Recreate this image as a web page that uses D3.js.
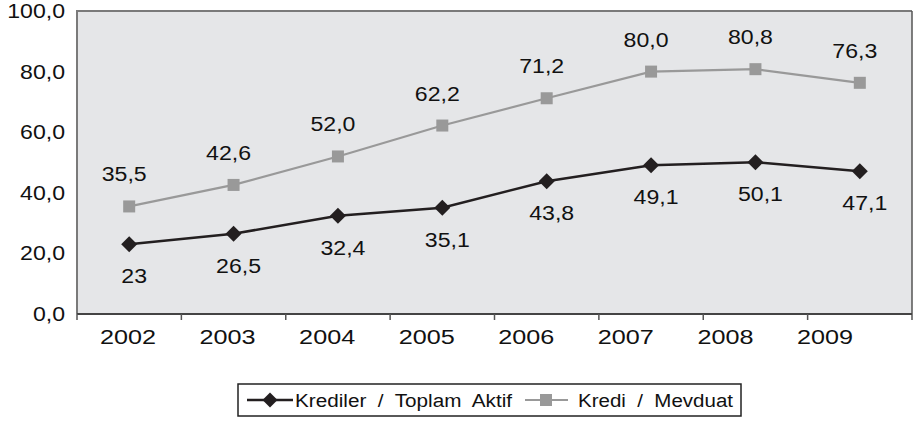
<!DOCTYPE html>
<html>
<head>
<meta charset="utf-8">
<script src="https://cdn.jsdelivr.net/npm/d3@7"></script>
<style>
  body { margin: 0; background: #fff; }
  svg { display: block; font-family: "Liberation Sans", Arial, sans-serif; }
  .legend text { white-space: pre; }
</style>
</head>
<body>
<svg id="chart" width="913" height="421"></svg>
<script>
const years = ["2002", "2003", "2004", "2005", "2006", "2007", "2008", "2009"];
const krediAktif = [23, 26.5, 32.4, 35.1, 43.8, 49.1, 50.1, 47.1];
const krediMevduat = [35.5, 42.6, 52.0, 62.2, 71.2, 80.0, 80.8, 76.3];
const yTicks = [0, 20, 40, 60, 80, 100];
const seriesNames = ["Krediler  /  Toplam  Aktif", "Kredi  /  Mevduat"];

const tr = d3.formatLocale({ decimal: ",", thousands: ".", grouping: [3], currency: ["", ""] });
const f1 = tr.format(".1f");
// the first point is printed without decimals in the source
const lbl = (v, i) => (i === 0 ? String(v) : f1(v));

const plotL = 77, plotR = 912, plotT = 11, plotB = 314;

const svg = d3.select("#chart");

const x = d3.scaleBand().domain(years).range([plotL, plotR]);
const xc = d => x(d) + x.bandwidth() / 2;
// year labels drift a little left in the original
const xLabel = d3.scalePoint().domain(years).range([128, 825]);
const y = d3.scaleLinear().domain([0, 100]).range([plotB, plotT]);

// plot background
svg.append("rect")
  .attr("x", plotL).attr("y", plotT)
  .attr("width", plotR - plotL).attr("height", plotB - plotT)
  .attr("fill", "#e5e6e8");

// frame: top + left gray, right dark
svg.append("path")
  .attr("d", `M${plotL},${plotB}V${plotT}H${plotR}`)
  .attr("fill", "none").attr("stroke", "#7a7a7a").attr("stroke-width", 2);
svg.append("line")
  .attr("x1", plotR).attr("x2", plotR).attr("y1", plotT).attr("y2", plotB + 6)
  .attr("stroke", "#555").attr("stroke-width", 1.5);

// x axis line + ticks at band edges
svg.append("line")
  .attr("x1", plotL).attr("x2", plotR).attr("y1", plotB).attr("y2", plotB)
  .attr("stroke", "#444").attr("stroke-width", 2);
svg.append("g").selectAll("line")
  .data(years)
  .join("line")
  .attr("x1", d => x(d)).attr("x2", d => x(d))
  .attr("y1", plotB).attr("y2", plotB + 6)
  .attr("stroke", "#555").attr("stroke-width", 1.5);

function stretchText(sel, sx) {
  sel.each(function() {
    const t = d3.select(this);
    const tx = +t.attr("data-x"), ty = +t.attr("data-y");
    t.attr("transform", `translate(${tx},${ty}) scale(${sx},1)`);
  });
}

// year labels
svg.append("g").selectAll("text")
  .data(years)
  .join("text")
  .attr("data-x", d => xLabel(d)).attr("data-y", 344)
  .attr("text-anchor", "middle")
  .attr("font-size", 21)
  .attr("fill", "#111")
  .text(d => d)
  .call(stretchText, 1.2);

// y labels
svg.append("g").selectAll("text")
  .data(yTicks)
  .join("text")
  .attr("data-x", 65).attr("data-y", d => y(d) + 7)
  .attr("text-anchor", "end")
  .attr("font-size", 21)
  .attr("fill", "#111")
  .text(d => f1(d))
  .call(stretchText, 1.1);

const line = d3.line().x(d => xc(d.year)).y(d => y(d.v));
const aktifPts = years.map((yr, i) => ({ year: yr, v: krediAktif[i], i }));
const mevduatPts = years.map((yr, i) => ({ year: yr, v: krediMevduat[i], i }));

const diamond = (cx, cy, r) => `M${cx},${cy - r}L${cx + r},${cy}L${cx},${cy + r}L${cx - r},${cy}Z`;

// Kredi / Mevduat
svg.append("path").datum(mevduatPts)
  .attr("d", line).attr("fill", "none")
  .attr("stroke", "#999").attr("stroke-width", 2.2);
svg.append("g").selectAll("rect")
  .data(mevduatPts)
  .join("rect")
  .attr("x", d => xc(d.year) - 6).attr("y", d => y(d.v) - 6)
  .attr("width", 12).attr("height", 12)
  .attr("fill", "#999");

// Krediler / Toplam Aktif
svg.append("path").datum(aktifPts)
  .attr("d", line).attr("fill", "none")
  .attr("stroke", "#231f20").attr("stroke-width", 2.5);
svg.append("g").selectAll("path")
  .data(aktifPts)
  .join("path")
  .attr("d", d => diamond(xc(d.year), y(d.v), 8))
  .attr("fill", "#231f20");

// data labels
svg.append("g").selectAll("text")
  .data(mevduatPts)
  .join("text")
  .attr("data-x", d => xc(d.year) - 5).attr("data-y", d => y(d.v) - 25)
  .attr("text-anchor", "middle")
  .attr("font-size", 21).attr("fill", "#111")
  .text(d => f1(d.v))
  .call(stretchText, 1.1);
svg.append("g").selectAll("text")
  .data(aktifPts)
  .join("text")
  .attr("data-x", d => xc(d.year) + 5).attr("data-y", d => y(d.v) + 39)
  .attr("text-anchor", "middle")
  .attr("font-size", 21).attr("fill", "#111")
  .text(d => lbl(d.v, d.i))
  .call(stretchText, 1.1);

// legend
const lg = svg.append("g").attr("class", "legend");
lg.append("rect")
  .attr("x", 238).attr("y", 384).attr("width", 503).attr("height", 32)
  .attr("fill", "#fff").attr("stroke", "#222").attr("stroke-width", 1.5);
lg.append("line").attr("x1", 247).attr("x2", 293).attr("y1", 400).attr("y2", 400)
  .attr("stroke", "#231f20").attr("stroke-width", 2.5);
lg.append("path").attr("d", diamond(270, 400, 7.5)).attr("fill", "#231f20");
lg.append("text")
  .attr("data-x", 295).attr("data-y", 407)
  .attr("font-size", 19).attr("fill", "#111")
  .text(seriesNames[0])
  .call(stretchText, 1.09);
lg.append("line").attr("x1", 525).attr("x2", 568).attr("y1", 400).attr("y2", 400)
  .attr("stroke", "#999").attr("stroke-width", 2.2);
lg.append("rect").attr("x", 540).attr("y", 394).attr("width", 12).attr("height", 12)
  .attr("fill", "#999");
lg.append("text")
  .attr("data-x", 578).attr("data-y", 407)
  .attr("font-size", 19).attr("fill", "#111")
  .text(seriesNames[1])
  .call(stretchText, 1.08);
</script>
</body>
</html>
